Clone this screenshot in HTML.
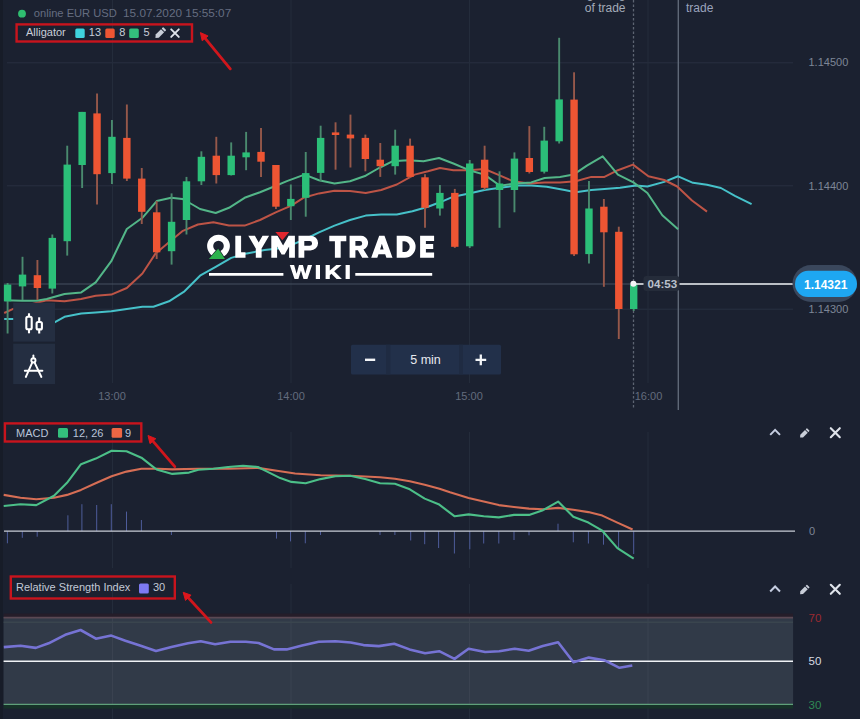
<!DOCTYPE html>
<html><head><meta charset="utf-8">
<style>
html,body{margin:0;padding:0;background:#1b2130;width:860px;height:719px;overflow:hidden}
svg{display:block}
text{font-family:"Liberation Sans",sans-serif}
</style></head><body>
<svg width="860" height="719" viewBox="0 0 860 719">
<rect x="0" y="0" width="860" height="719" fill="#1b2130"/><rect x="0" y="0" width="3" height="719" fill="#171c28"/>
<line x1="7" y1="62.8" x2="793" y2="62.8" stroke="#283041" stroke-width="1"/>
<line x1="7" y1="185.8" x2="793" y2="185.8" stroke="#283041" stroke-width="1"/>
<line x1="7" y1="309.2" x2="793" y2="309.2" stroke="#283041" stroke-width="1"/>
<line x1="112.5" y1="0" x2="112.5" y2="383" stroke="#242c3b" stroke-width="1"/>
<line x1="112.5" y1="432" x2="112.5" y2="568" stroke="#242c3b" stroke-width="1"/>
<line x1="112.5" y1="584" x2="112.5" y2="719" stroke="#242c3b" stroke-width="1"/>
<line x1="291" y1="0" x2="291" y2="383" stroke="#242c3b" stroke-width="1"/>
<line x1="291" y1="432" x2="291" y2="568" stroke="#242c3b" stroke-width="1"/>
<line x1="291" y1="584" x2="291" y2="719" stroke="#242c3b" stroke-width="1"/>
<line x1="469.5" y1="0" x2="469.5" y2="383" stroke="#242c3b" stroke-width="1"/>
<line x1="469.5" y1="432" x2="469.5" y2="568" stroke="#242c3b" stroke-width="1"/>
<line x1="469.5" y1="584" x2="469.5" y2="719" stroke="#242c3b" stroke-width="1"/>
<line x1="648" y1="0" x2="648" y2="383" stroke="#242c3b" stroke-width="1"/>
<line x1="648" y1="432" x2="648" y2="568" stroke="#242c3b" stroke-width="1"/>
<line x1="648" y1="584" x2="648" y2="719" stroke="#242c3b" stroke-width="1"/>
<line x1="633.5" y1="0" x2="633.5" y2="409" stroke="#5d6472" stroke-width="1.3" stroke-dasharray="2.6,1.9"/>
<line x1="678.3" y1="0" x2="678.3" y2="410" stroke="#5f6877" stroke-width="1.4"/>
<line x1="4" y1="284" x2="633" y2="284" stroke="#465060" stroke-width="1"/>
<polyline points="4.2,318.9 13.2,318.9 54.5,322.4 64.5,316.8 81.2,313.5 95.7,312.4 111.3,311.3 126.8,309.0 142.4,306.8 153.4,306.8 169.0,301.3 184.5,291.3 200.0,275.7 215.7,266.8 231.2,257.9 246.8,253.4 264.6,250.1 282.4,247.9 290.0,245.6 305.6,239.0 319.0,232.3 334.5,225.6 350.0,220.0 365.7,215.6 381.2,214.5 396.8,214.5 412.4,211.2 428.0,206.7 440.0,202.3 453.4,196.7 469.0,193.4 484.5,190.0 500.0,187.8 515.7,185.6 531.2,185.6 546.8,186.7 564.6,190.0 575.7,192.2 591.3,190.0 604.5,188.9 620.0,187.8 635.7,185.6 647.4,186.5 664.2,181.9 678.1,176.3 693.0,182.8 707.0,184.7 720.9,188.0 734.9,195.8 751.6,204.2" fill="none" stroke="#46c1c9" stroke-width="2" stroke-linejoin="round"/>
<polyline points="4.2,313.0 13.2,308.9 46.7,300.2 64.5,301.3 81.0,299.0 95.7,295.7 111.3,294.6 126.8,288.0 142.4,273.5 155.6,253.4 169.0,242.3 182.3,231.2 197.9,224.5 213.4,222.3 229.0,225.6 244.6,225.6 260.0,220.0 275.7,212.3 291.3,205.6 303.4,197.8 319.0,193.4 334.5,190.7 350.0,191.1 365.7,192.9 381.2,190.0 396.8,184.5 414.6,174.6 428.0,171.3 440.0,168.0 453.4,170.2 469.0,170.2 484.5,169.0 497.9,174.6 513.4,181.3 529.0,183.5 544.6,182.4 560.0,182.4 575.7,181.3 591.3,176.9 604.5,176.9 617.9,170.2 633.0,164.6 648.4,176.3 664.2,180.0 677.2,186.5 692.0,200.5 707.0,211.6" fill="none" stroke="#bd5446" stroke-width="2" stroke-linejoin="round"/>
<polyline points="4.5,300.2 22.0,300.8 36.7,300.8 46.7,299.0 64.5,294.0 81.2,292.4 95.7,282.4 111.3,261.2 126.8,229.0 142.4,217.8 156.7,201.1 171.2,197.8 182.3,198.9 192.3,204.5 200.0,209.0 215.7,213.0 229.0,207.8 244.6,197.8 260.0,192.2 273.5,186.7 286.9,181.1 304.5,174.6 319.0,180.2 334.5,183.5 350.0,181.3 365.7,175.7 379.0,168.0 392.4,161.3 408.0,160.2 423.5,161.3 439.0,158.0 453.4,163.5 469.0,170.2 484.5,174.6 500.0,185.8 515.7,183.5 531.2,182.4 544.6,178.0 560.0,176.9 573.5,174.6 586.9,165.7 602.7,156.4 617.9,174.6 633.4,182.4 647.4,193.0 662.3,215.3 678.1,229.3" fill="none" stroke="#53b688" stroke-width="2" stroke-linejoin="round"/>
<line x1="7.60" y1="283" x2="7.60" y2="333.5" stroke="#4a8a6e" stroke-width="1.9"/>
<rect x="3.90" y="284.6" width="7.4" height="16.7" fill="#2bbf78"/>
<line x1="22.51" y1="256.8" x2="22.51" y2="300" stroke="#4a8a6e" stroke-width="1.9"/>
<rect x="18.81" y="274.6" width="7.4" height="11.8" fill="#2bbf78"/>
<line x1="37.41" y1="260" x2="37.41" y2="300" stroke="#96584a" stroke-width="1.9"/>
<rect x="33.71" y="275.2" width="7.4" height="12.8" fill="#ee5533"/>
<line x1="52.32" y1="234.5" x2="52.32" y2="293.5" stroke="#4a8a6e" stroke-width="1.9"/>
<rect x="48.62" y="237.9" width="7.4" height="50.7" fill="#2bbf78"/>
<line x1="67.23" y1="145.7" x2="67.23" y2="255.6" stroke="#4a8a6e" stroke-width="1.9"/>
<rect x="63.53" y="164.6" width="7.4" height="76.6" fill="#2bbf78"/>
<line x1="82.13" y1="111.9" x2="82.13" y2="188" stroke="#4a8a6e" stroke-width="1.9"/>
<rect x="78.43" y="111.9" width="7.4" height="53.1" fill="#2bbf78"/>
<line x1="97.04" y1="93.4" x2="97.04" y2="204.5" stroke="#96584a" stroke-width="1.9"/>
<rect x="93.34" y="113.4" width="7.4" height="60.8" fill="#ee5533"/>
<line x1="111.95" y1="120.1" x2="111.95" y2="184" stroke="#4a8a6e" stroke-width="1.9"/>
<rect x="108.25" y="136.8" width="7.4" height="36.3" fill="#2bbf78"/>
<line x1="126.86" y1="104.5" x2="126.86" y2="181" stroke="#96584a" stroke-width="1.9"/>
<rect x="123.16" y="137.9" width="7.4" height="40.7" fill="#ee5533"/>
<line x1="141.76" y1="168" x2="141.76" y2="224" stroke="#96584a" stroke-width="1.9"/>
<rect x="138.06" y="178.6" width="7.4" height="33.2" fill="#ee5533"/>
<line x1="156.67" y1="201" x2="156.67" y2="259" stroke="#96584a" stroke-width="1.9"/>
<rect x="152.97" y="212.3" width="7.4" height="40.0" fill="#ee5533"/>
<line x1="171.58" y1="193.4" x2="171.58" y2="264.6" stroke="#4a8a6e" stroke-width="1.9"/>
<rect x="167.88" y="221.8" width="7.4" height="29.4" fill="#2bbf78"/>
<line x1="186.48" y1="176.9" x2="186.48" y2="234.5" stroke="#4a8a6e" stroke-width="1.9"/>
<rect x="182.78" y="181.3" width="7.4" height="38.7" fill="#2bbf78"/>
<line x1="201.39" y1="151.3" x2="201.39" y2="185" stroke="#4a8a6e" stroke-width="1.9"/>
<rect x="197.69" y="156.8" width="7.4" height="24.5" fill="#2bbf78"/>
<line x1="216.30" y1="136.8" x2="216.30" y2="183.5" stroke="#96584a" stroke-width="1.9"/>
<rect x="212.60" y="155.7" width="7.4" height="19.4" fill="#ee5533"/>
<line x1="231.20" y1="142.4" x2="231.20" y2="175.5" stroke="#4a8a6e" stroke-width="1.9"/>
<rect x="227.50" y="155.7" width="7.4" height="19.4" fill="#2bbf78"/>
<line x1="246.11" y1="131.9" x2="246.11" y2="170.2" stroke="#4a8a6e" stroke-width="1.9"/>
<rect x="242.41" y="152.4" width="7.4" height="4.9" fill="#2bbf78"/>
<line x1="261.02" y1="127.9" x2="261.02" y2="176.9" stroke="#96584a" stroke-width="1.9"/>
<rect x="257.32" y="151.9" width="7.4" height="9.8" fill="#ee5533"/>
<line x1="275.93" y1="165" x2="275.93" y2="209" stroke="#96584a" stroke-width="1.9"/>
<rect x="272.23" y="165" width="7.4" height="41.7" fill="#ee5533"/>
<line x1="290.83" y1="184.5" x2="290.83" y2="220" stroke="#4a8a6e" stroke-width="1.9"/>
<rect x="287.13" y="198.9" width="7.4" height="7.3" fill="#2bbf78"/>
<line x1="305.74" y1="152" x2="305.74" y2="216.7" stroke="#4a8a6e" stroke-width="1.9"/>
<rect x="302.04" y="173.1" width="7.4" height="24.7" fill="#2bbf78"/>
<line x1="320.65" y1="125.7" x2="320.65" y2="181.3" stroke="#4a8a6e" stroke-width="1.9"/>
<rect x="316.95" y="137.9" width="7.4" height="35.0" fill="#2bbf78"/>
<line x1="335.55" y1="122.3" x2="335.55" y2="169.7" stroke="#96584a" stroke-width="1.9"/>
<rect x="331.85" y="132.4" width="7.4" height="2.6" fill="#ee5533"/>
<line x1="350.46" y1="114.6" x2="350.46" y2="167.5" stroke="#96584a" stroke-width="1.9"/>
<rect x="346.76" y="134.6" width="7.4" height="3.8" fill="#ee5533"/>
<line x1="365.37" y1="134.6" x2="365.37" y2="171.3" stroke="#96584a" stroke-width="1.9"/>
<rect x="361.67" y="137.9" width="7.4" height="21.1" fill="#ee5533"/>
<line x1="380.28" y1="143" x2="380.28" y2="176.9" stroke="#96584a" stroke-width="1.9"/>
<rect x="376.58" y="159.7" width="7.4" height="6.5" fill="#ee5533"/>
<line x1="395.18" y1="129.7" x2="395.18" y2="174.6" stroke="#4a8a6e" stroke-width="1.9"/>
<rect x="391.48" y="145.7" width="7.4" height="20.5" fill="#2bbf78"/>
<line x1="410.09" y1="138.6" x2="410.09" y2="178" stroke="#96584a" stroke-width="1.9"/>
<rect x="406.39" y="145.7" width="7.4" height="31.2" fill="#ee5533"/>
<line x1="425.00" y1="174.2" x2="425.00" y2="227.8" stroke="#96584a" stroke-width="1.9"/>
<rect x="421.30" y="177.3" width="7.4" height="30.5" fill="#ee5533"/>
<line x1="439.90" y1="185" x2="439.90" y2="215.6" stroke="#4a8a6e" stroke-width="1.9"/>
<rect x="436.20" y="192.9" width="7.4" height="15.6" fill="#2bbf78"/>
<line x1="454.81" y1="188.9" x2="454.81" y2="247.9" stroke="#96584a" stroke-width="1.9"/>
<rect x="451.11" y="192.9" width="7.4" height="53.9" fill="#ee5533"/>
<line x1="469.72" y1="160" x2="469.72" y2="248" stroke="#4a8a6e" stroke-width="1.9"/>
<rect x="466.02" y="163.5" width="7.4" height="82.8" fill="#2bbf78"/>
<line x1="484.62" y1="145.7" x2="484.62" y2="190" stroke="#96584a" stroke-width="1.9"/>
<rect x="480.92" y="159.7" width="7.4" height="28.1" fill="#ee5533"/>
<line x1="499.53" y1="171.3" x2="499.53" y2="227.8" stroke="#4a8a6e" stroke-width="1.9"/>
<rect x="495.83" y="183.5" width="7.4" height="6.5" fill="#2bbf78"/>
<line x1="514.44" y1="152.4" x2="514.44" y2="212.3" stroke="#4a8a6e" stroke-width="1.9"/>
<rect x="510.74" y="158.6" width="7.4" height="31.4" fill="#2bbf78"/>
<line x1="529.35" y1="126.1" x2="529.35" y2="173.5" stroke="#96584a" stroke-width="1.9"/>
<rect x="525.64" y="158" width="7.4" height="14.0" fill="#ee5533"/>
<line x1="544.25" y1="126.8" x2="544.25" y2="173.5" stroke="#4a8a6e" stroke-width="1.9"/>
<rect x="540.55" y="140.6" width="7.4" height="31.1" fill="#2bbf78"/>
<line x1="559.16" y1="37.8" x2="559.16" y2="143.5" stroke="#4a8a6e" stroke-width="1.9"/>
<rect x="555.46" y="99.4" width="7.4" height="41.9" fill="#2bbf78"/>
<line x1="574.07" y1="72.3" x2="574.07" y2="256" stroke="#96584a" stroke-width="1.9"/>
<rect x="570.37" y="99.6" width="7.4" height="154.7" fill="#ee5533"/>
<line x1="588.97" y1="181" x2="588.97" y2="263.4" stroke="#4a8a6e" stroke-width="1.9"/>
<rect x="585.27" y="208.5" width="7.4" height="45.6" fill="#2bbf78"/>
<line x1="603.88" y1="199" x2="603.88" y2="286.8" stroke="#96584a" stroke-width="1.9"/>
<rect x="600.18" y="206.7" width="7.4" height="25.6" fill="#ee5533"/>
<line x1="618.79" y1="226.7" x2="618.79" y2="339" stroke="#96584a" stroke-width="1.9"/>
<rect x="615.09" y="231.8" width="7.4" height="77.2" fill="#ee5533"/>
<line x1="633.69" y1="284" x2="633.69" y2="311" stroke="#4a8a6e" stroke-width="1.9"/>
<rect x="629.99" y="284.6" width="7.4" height="24.4" fill="#2bbf78"/>
<text x="625.5" y="11.5" font-size="12" fill="#a3abb8" text-anchor="end">of trade</text>
<text x="625.5" y="-2.4" font-size="12" fill="#a3abb8" text-anchor="end">Beginning</text>
<text x="686" y="11.5" font-size="12" fill="#9aa3bd">trade</text>
<circle cx="22" cy="13.7" r="3.9" fill="#2fbd70"/>
<text x="33.8" y="16.6" font-size="11.15" fill="#656d80">online EUR USD</text>
<text x="123" y="16.6" font-size="11.8" fill="#656d80">15.07.2020 15:55:07</text>
<rect x="16.6" y="24.4" width="175.4" height="17.1" fill="none" stroke="#c8141d" stroke-width="2.4"/>
<text x="26" y="36" font-size="11" fill="#c9ced8">Alligator</text>
<rect x="75.3" y="28.6" width="9.4" height="9.4" rx="1.5" fill="#3fd3de"/>
<text x="88.8" y="36" font-size="11" fill="#c9ced8">13</text>
<rect x="105.3" y="28.6" width="9.4" height="9.4" rx="1.5" fill="#ee5533"/>
<text x="119.2" y="36" font-size="11" fill="#c9ced8">8</text>
<rect x="129.2" y="28.6" width="9.6" height="9.4" rx="1.5" fill="#33c07c"/>
<text x="143.5" y="36" font-size="11" fill="#c9ced8">5</text>
<g transform="translate(160.30,33.00) rotate(-45) scale(1.0)" fill="#c9ced8"><path d="M-4.4,-2.2 H3.2 V2.2 H-4.4 L-6.9,0 Z"/><rect x="4.1" y="-2.2" width="2.2" height="4.4" rx="0.6"/></g>
<path d="M171.2,29.3 L178.79999999999998,36.9 M178.79999999999998,29.3 L171.2,36.9" stroke="#dfe3ea" stroke-width="1.9" stroke-linecap="round"/>
<line x1="230.3" y1="68.8" x2="205.2" y2="38.4" stroke="#d0161c" stroke-width="2.8" stroke-linecap="round"/><path d="M200.4,32.6 L208.1,36.0 L202.2,40.8 Z" fill="#dc161c" stroke="#dc161c" stroke-width="1" stroke-linejoin="round"/>
<circle cx="218.5" cy="246.1" r="8.35" fill="none" stroke="#fff" stroke-width="6.1"/><path d="M218.2,247.6 L226.2,259.6 L207.9,259.6 Z" fill="#1b2130"/><path d="M218.2,248.7 L224.9,258.9 L208.9,258.9 Z" fill="#2cb24d"/><path d="M235.3,235.7 H241.1 V252.2 H245.5 V257.7 H235.3 Z M248.3,235.7 H254.9 L258.7,242.6 L262.5,235.7 H269.1 L261.6,248.6 V257.7 H255.8 V248.6 Z M271.3,257.7 V235.7 H277.6 L283.1,245.5 L288.6,235.7 H294.9 V257.7 H289.1 V246.5 L284.6,254.5 H281.6 L277.1,246.5 V257.7 Z M298.5,235.7 H310.4 A7.7,7.4 0 0 1 310.4,250.5 H304.3 V257.7 H298.5 Z M304.3,241.1 H309.6 A2.5,2.3 0 0 1 309.6,245.7 H304.3 Z M329.3,235.7 H346.3 V241.3 H340.7 V257.7 H334.9 V241.3 H329.3 Z M349.6,235.7 H360.5 A7.2,7.1 0 0 1 363.5,249.4 L368.6,257.7 H362.2 L357.9,250.2 H355.4 V257.7 H349.6 Z M355.4,241.1 H359.8 A2.4,2.3 0 0 1 359.8,245.7 H355.4 Z M371.2,257.7 L379.2,235.7 H384.5 L392.5,257.7 H386.4 L385.2,254.2 H378.5 L377.3,257.7 Z M380.1,249.4 H383.6 L381.85,243.8 Z M396.7,235.7 H404.8 A10.8,11 0 0 1 404.8,257.7 H396.7 Z M402.5,241.3 H404.5 A5.2,5.4 0 0 1 404.5,252.1 H402.5 Z M420.1,235.7 H434.1 V241 H425.9 V244 H433.2 V249 H425.9 V252.4 H434.1 V257.7 H420.1 Z M289.8,265 H294.1 L296.6,273.8 L299.0,265 H302.9 L305.3,273.8 L307.8,265 H312.1 L307.4,278.9 H303.5 L300.95,270.6 L298.4,278.9 H294.5 Z M315.8,265 H320 V278.9 H315.8 Z M325.6,265 H329.8 V270.6 L336.3,265 H341.6 L334.2,271.2 L341.9,278.9 H336.6 L331.4,273.7 L329.8,275.3 V278.9 H325.6 Z M345.6,265 H349.8 V278.9 H345.6 Z M209,272.9 H283.4 V275.7 H209 Z M355.3,272.9 H432.2 V275.7 H355.3 Z" fill="#ffffff" fill-rule="evenodd"/><path d="M274.4,231.4 L290.2,231.4 L282.3,241.3 Z" fill="#1b2130"/><path d="M275.4,232.1 L289.2,232.1 L282.3,240.2 Z" fill="#e0262e"/>
<text x="808.5" y="66" font-size="11" fill="#7d8696">1.14500</text>
<text x="808.5" y="189.5" font-size="11" fill="#7d8696">1.14400</text>
<text x="808.5" y="313" font-size="11" fill="#7d8696">1.14300</text>
<text x="112" y="400" font-size="11" fill="#636c7d" text-anchor="middle">13:00</text>
<text x="291" y="400" font-size="11" fill="#636c7d" text-anchor="middle">14:00</text>
<text x="469" y="400" font-size="11" fill="#636c7d" text-anchor="middle">15:00</text>
<text x="648.5" y="400" font-size="11" fill="#636c7d" text-anchor="middle">16:00</text>
<line x1="633.4" y1="284" x2="794" y2="284" stroke="#f2f4f7" stroke-width="1.4"/>
<rect x="643.5" y="276" width="36" height="15" rx="3" fill="#252c3a"/>
<text x="647.6" y="287.9" font-size="11.6" font-weight="bold" fill="#bac1cc">04:53</text>
<circle cx="633.4" cy="283.8" r="3" fill="#f2f4f7"/>
<rect x="792.5" y="265" width="64.5" height="37" rx="18.5" fill="#3a475c"/>
<rect x="795" y="270.8" width="62" height="26.3" rx="13.1" fill="#1ea7f2"/>
<text x="804" y="289" font-size="12" font-weight="bold" fill="#ffffff">1.14321</text>
<rect x="13.2" y="302.7" width="41.8" height="38.9" fill="#242e41"/>
<rect x="13.2" y="343.7" width="41.8" height="40.4" fill="#242e41"/>
<g stroke="#ffffff" stroke-width="2.1" fill="none"><rect x="26.3" y="316.8" width="5.4" height="12.5" rx="1.5"/><line x1="29" y1="313.3" x2="29" y2="316.8"/><line x1="29" y1="329.3" x2="29" y2="333.3"/><rect x="36.6" y="322" width="5.3" height="7.4" rx="1.5"/><line x1="39.2" y1="317.3" x2="39.2" y2="322"/><line x1="39.2" y1="329.4" x2="39.2" y2="333.5"/></g>
<g stroke="#ffffff" stroke-width="1.9" fill="none" stroke-linecap="round"><line x1="33.4" y1="355.5" x2="33.4" y2="358.3"/><circle cx="33.4" cy="360.4" r="2.1"/><line x1="32.3" y1="362.3" x2="25.8" y2="377"/><line x1="34.5" y1="362.3" x2="41.4" y2="377"/><line x1="24.8" y1="370.8" x2="42.4" y2="370.8"/></g>
<rect x="351" y="344.7" width="150" height="29.7" rx="1.5" fill="#22304a"/>
<rect x="386" y="344.7" width="4.5" height="29.7" fill="#1f2b42"/>
<rect x="459" y="344.7" width="4" height="29.7" fill="#1f2b42"/>
<rect x="365" y="358.6" width="10.2" height="2.4" fill="#f3f5f8"/>
<text x="425.5" y="363.7" font-size="12.5" fill="#e6e9ee" text-anchor="middle">5 min</text>
<path d="M475.5,359.8 L486.2,359.8 M480.8,354.4 L480.8,365.2" stroke="#f3f5f8" stroke-width="2.3"/>
<rect x="4.9" y="423.4" width="136.4" height="18.1" fill="none" stroke="#c8141d" stroke-width="2.4"/>
<text x="16" y="436.5" font-size="11" fill="#b9c4d8">MACD</text>
<rect x="58" y="428" width="10" height="9.8" rx="1.5" fill="#33c07c"/>
<text x="72.8" y="436.5" font-size="11" fill="#b9c4d8">12, 26</text>
<rect x="111.6" y="428" width="10.5" height="9.8" rx="1.5" fill="#ee6644"/>
<text x="125" y="436.5" font-size="11" fill="#b9c4d8">9</text>
<line x1="174.8" y1="466.6" x2="152.9" y2="441.2" stroke="#d0161c" stroke-width="2.8" stroke-linecap="round"/><path d="M148,435.5 L155.8,438.7 L150.0,443.7 Z" fill="#dc161c" stroke="#dc161c" stroke-width="1" stroke-linejoin="round"/>
<line x1="7.4" y1="531.2" x2="7.4" y2="543.3" stroke="#4e5c9a" stroke-width="1"/>
<line x1="22.3" y1="531.2" x2="22.3" y2="537.8" stroke="#4e5c9a" stroke-width="1"/>
<line x1="37.2" y1="531.2" x2="37.2" y2="536.7" stroke="#4e5c9a" stroke-width="1"/>
<line x1="67.9" y1="531.2" x2="67.9" y2="515.3" stroke="#4e5c9a" stroke-width="1"/>
<line x1="81.9" y1="531.2" x2="81.9" y2="504.2" stroke="#4e5c9a" stroke-width="1"/>
<line x1="96.7" y1="531.2" x2="96.7" y2="505" stroke="#4e5c9a" stroke-width="1"/>
<line x1="111.3" y1="531.2" x2="111.3" y2="504.2" stroke="#4e5c9a" stroke-width="1"/>
<line x1="126.5" y1="531.2" x2="126.5" y2="511.6" stroke="#4e5c9a" stroke-width="1"/>
<line x1="141.4" y1="531.2" x2="141.4" y2="520" stroke="#4e5c9a" stroke-width="1"/>
<line x1="171.4" y1="531.2" x2="171.4" y2="535" stroke="#4e5c9a" stroke-width="1"/>
<line x1="276.5" y1="531.2" x2="276.5" y2="538.6" stroke="#4e5c9a" stroke-width="1"/>
<line x1="290.5" y1="531.2" x2="290.5" y2="541.4" stroke="#4e5c9a" stroke-width="1"/>
<line x1="305.3" y1="531.2" x2="305.3" y2="543.3" stroke="#4e5c9a" stroke-width="1"/>
<line x1="320.5" y1="531.2" x2="320.5" y2="535" stroke="#4e5c9a" stroke-width="1"/>
<line x1="380" y1="531.2" x2="380" y2="535" stroke="#4e5c9a" stroke-width="1"/>
<line x1="394.9" y1="531.2" x2="394.9" y2="535" stroke="#4e5c9a" stroke-width="1"/>
<line x1="410.7" y1="531.2" x2="410.7" y2="540.5" stroke="#4e5c9a" stroke-width="1"/>
<line x1="424.7" y1="531.2" x2="424.7" y2="544.2" stroke="#4e5c9a" stroke-width="1"/>
<line x1="438.6" y1="531.2" x2="438.6" y2="548" stroke="#4e5c9a" stroke-width="1"/>
<line x1="454.4" y1="531.2" x2="454.4" y2="553.5" stroke="#4e5c9a" stroke-width="1"/>
<line x1="469.8" y1="531.2" x2="469.8" y2="549.3" stroke="#4e5c9a" stroke-width="1"/>
<line x1="483.7" y1="531.2" x2="483.7" y2="543.5" stroke="#4e5c9a" stroke-width="1"/>
<line x1="498.8" y1="531.2" x2="498.8" y2="543.5" stroke="#4e5c9a" stroke-width="1"/>
<line x1="514" y1="531.2" x2="514" y2="540" stroke="#4e5c9a" stroke-width="1"/>
<line x1="529" y1="531.2" x2="529" y2="535.3" stroke="#4e5c9a" stroke-width="1"/>
<line x1="558" y1="531.2" x2="558" y2="523.7" stroke="#4e5c9a" stroke-width="1"/>
<line x1="573.3" y1="531.2" x2="573.3" y2="542.3" stroke="#4e5c9a" stroke-width="1"/>
<line x1="588.4" y1="531.2" x2="588.4" y2="543.5" stroke="#4e5c9a" stroke-width="1"/>
<line x1="603.5" y1="531.2" x2="603.5" y2="544.7" stroke="#4e5c9a" stroke-width="1"/>
<line x1="618.6" y1="531.2" x2="618.6" y2="549.3" stroke="#4e5c9a" stroke-width="1"/>
<line x1="633.7" y1="531.2" x2="633.7" y2="554" stroke="#4e5c9a" stroke-width="1"/>
<line x1="4" y1="531.2" x2="795" y2="531.2" stroke="#c9cdd6" stroke-width="1.3"/>
<polyline points="3.7,494.9 20.5,497.7 36.3,499.2 54.0,497.7 67.0,494.9 81.0,489.9 96.7,482.8 111.6,476.3 126.5,471.6 141.4,468.8 158.0,468.8 172.3,469.4 198.4,468.8 228.1,468.8 257.9,467.9 280.2,471.3 295.1,473.5 320.5,475.3 350.2,475.7 380.0,477.2 394.9,478.7 409.8,481.3 424.7,484.7 439.5,488.7 450.0,492.3 468.6,498.1 483.7,501.6 498.8,505.1 514.0,507.0 529.0,508.6 543.0,509.3 558.1,507.9 573.3,509.8 588.4,512.1 602.3,515.6 617.4,522.6 632.6,529.5" fill="none" stroke="#d66e55" stroke-width="2.1" stroke-linejoin="round"/>
<polyline points="3.7,506.0 20.5,504.2 36.3,505.1 54.0,495.8 67.0,482.8 81.0,464.2 95.8,458.6 111.6,450.8 126.5,451.2 141.4,457.7 154.4,467.9 157.4,469.8 172.3,473.9 189.0,472.6 198.4,469.8 213.3,468.8 228.1,467.0 243.0,465.7 257.9,467.0 267.2,471.6 280.2,478.1 291.4,481.9 305.6,483.2 320.5,479.1 335.3,476.3 350.2,475.7 365.1,479.1 380.0,483.2 394.9,483.7 409.8,489.3 424.7,498.6 438.6,504.2 454.7,516.3 468.6,514.4 483.7,516.3 498.8,517.4 514.0,514.9 529.0,514.9 543.0,510.2 558.1,501.6 573.3,516.7 588.4,522.6 602.3,530.7 617.4,548.1 633.7,558.6" fill="none" stroke="#4cbf88" stroke-width="2.1" stroke-linejoin="round"/>
<text x="809" y="535" font-size="11" fill="#7d8696">0</text>
<path d="M770.2,434.9 L775.1,429.9 L780.0,434.9" fill="none" stroke="#c5cde0" stroke-width="2"/>
<g transform="translate(804.40,433.30) rotate(-45) scale(0.88)" fill="#c9ced8"><path d="M-4.4,-2.2 H3.2 V2.2 H-4.4 L-6.9,0 Z"/><rect x="4.1" y="-2.2" width="2.2" height="4.4" rx="0.6"/></g>
<path d="M830.8,428.2 L839.8,437.2 M839.8,428.2 L830.8,437.2" stroke="#dfe3ea" stroke-width="2.1" stroke-linecap="round"/>
<path d="M770.2,591.5 L775.1,586.5 L780.0,591.5" fill="none" stroke="#c5cde0" stroke-width="2"/>
<g transform="translate(804.40,589.90) rotate(-45) scale(0.88)" fill="#c9ced8"><path d="M-4.4,-2.2 H3.2 V2.2 H-4.4 L-6.9,0 Z"/><rect x="4.1" y="-2.2" width="2.2" height="4.4" rx="0.6"/></g>
<path d="M830.8,584.8 L839.8,593.8 M839.8,584.8 L830.8,593.8" stroke="#dfe3ea" stroke-width="2.1" stroke-linecap="round"/>
<rect x="10.8" y="576.5" width="164" height="22" fill="none" stroke="#c8141d" stroke-width="2.4"/>
<text x="16" y="591" font-size="11" fill="#c3c9d6">Relative Strength Index</text>
<rect x="139" y="583.6" width="9.8" height="9.8" rx="1.5" fill="#7d7af2"/>
<text x="153" y="591" font-size="11" fill="#c3c9d6">30</text>
<rect x="3.6" y="617" width="789.5" height="87.3" fill="#313a48"/>
<line x1="112.5" y1="617" x2="112.5" y2="704" stroke="#3a4250" stroke-width="1"/>
<line x1="291" y1="617" x2="291" y2="704" stroke="#3a4250" stroke-width="1"/>
<line x1="469.5" y1="617" x2="469.5" y2="704" stroke="#3a4250" stroke-width="1"/>
<line x1="648" y1="617" x2="648" y2="704" stroke="#3a4250" stroke-width="1"/>
<rect x="3.6" y="613.5" width="789.5" height="3.5" fill="#251d29"/>
<line x1="3.6" y1="617.6" x2="793" y2="617.6" stroke="#5a4853" stroke-width="1.6"/>
<line x1="3.6" y1="622.2" x2="793" y2="622.2" stroke="#3a454e" stroke-width="1.4"/>
<rect x="3.6" y="705" width="789.5" height="3.6" fill="#163128"/>
<line x1="3.6" y1="704.3" x2="793" y2="704.3" stroke="#5fa07a" stroke-width="1.3"/>
<line x1="3.6" y1="661.3" x2="793" y2="661.3" stroke="#f0f2f6" stroke-width="1.4"/>
<polyline points="3.8,647.1 20.5,645.8 35.8,647.9 48.6,643.3 65.2,634.8 80.6,630.0 95.9,638.7 111.3,635.6 125.4,640.7 140.7,645.8 156.0,650.9 171.4,647.1 188.0,643.3 200.8,641.2 215.1,644.3 230.5,641.7 245.8,641.7 258.6,643.0 274.0,649.4 286.7,649.4 302.1,645.6 318.7,641.7 335.4,641.2 350.7,642.5 363.5,645.1 378.8,646.1 394.2,643.8 409.5,649.4 425.1,653.3 439.2,651.2 454.5,658.9 468.6,648.7 485.2,652.0 499.3,651.2 514.7,648.7 528.7,650.7 542.8,646.1 558.1,642.3 573.5,662.2 588.8,657.6 604.2,660.2 619.5,667.8 632.3,665.5" fill="none" stroke="#7673d4" stroke-width="2.6" stroke-linejoin="round"/>
<line x1="211" y1="622.4" x2="188.3" y2="597.8" stroke="#d0161c" stroke-width="2.8" stroke-linecap="round"/><path d="M183.2,592.3 L191.1,595.2 L185.5,600.4 Z" fill="#dc161c" stroke="#dc161c" stroke-width="1" stroke-linejoin="round"/>
<text x="808.5" y="621.5" font-size="11.5" fill="#9a2a30">70</text>
<text x="808.5" y="665.3" font-size="11.5" fill="#d7dbe2">50</text>
<text x="808.5" y="708.7" font-size="11.5" fill="#2f8a55">30</text>
</svg>
</body></html>
